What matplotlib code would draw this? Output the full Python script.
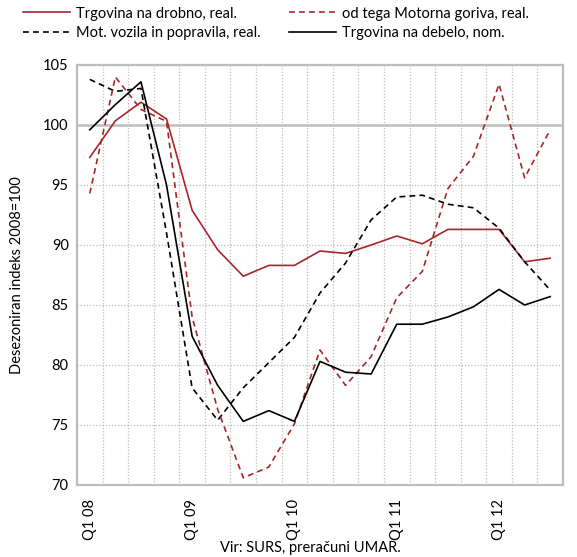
import matplotlib
matplotlib.use("Agg")
import matplotlib.pyplot as plt
import numpy as np

plt.rcParams['font.family'] = ['Lato', 'DejaVu Sans']

# quarters Q1 08 .. Q3 12
quarters = ["Q1 08", "Q2 08", "Q3 08", "Q4 08",
            "Q1 09", "Q2 09", "Q3 09", "Q4 09",
            "Q1 10", "Q2 10", "Q3 10", "Q4 10",
            "Q1 11", "Q2 11", "Q3 11", "Q4 11",
            "Q1 12", "Q2 12", "Q3 12"]

retail = [97.3, 100.35, 101.9, 100.5, 92.9, 89.6, 87.4, 88.3, 88.3,
          89.5, 89.3, 90.0, 90.75, 90.1, 91.3, 91.3, 91.3, 88.6, 88.9]
fuels = [94.3, 104.0, 101.3, 100.3, 84.0, 76.3, 70.6, 71.5, 75.1,
         81.25, 78.3, 80.7, 85.6, 87.8, 94.7, 97.4, 103.4, 95.6, 99.6]
vehicles = [103.8, 102.8, 103.05, 91.0, 78.1, 75.4, 78.1, 80.2, 82.3,
            86.0, 88.5, 92.1, 94.0, 94.15, 93.4, 93.1, 91.4, 88.6, 86.25]
wholesale = [99.6, 101.7, 103.6, 95.0, 82.4, 78.3, 75.3, 76.2, 75.3,
             80.3, 79.4, 79.25, 83.4, 83.4, 84.0, 84.85, 86.3, 85.0, 85.7]

tick_labels = ["Q1 08", "", "", "", "Q1 09", "", "", "", "Q1 10", "", "", "",
               "Q1 11", "", "", "", "Q1 12", "", ""]

red = "#A8262B"
grid_col = "#BDBDBD"

fig = plt.figure(figsize=(5.77, 5.57), dpi=100)
ax = fig.add_axes([77/577, 1-485/557, (563-77)/577, (485-65)/557])

x = np.arange(len(quarters))
ax.plot(x, retail, '-', color=red, lw=1.2, label="Trgovina na drobno, real.")
ax.plot(x, vehicles, color="black", lw=1.2, dashes=(3.5, 2.5), label="Mot. vozila in popravila, real.")
ax.plot(x, fuels, color=red, lw=1.2, dashes=(3.5, 2.5), label="od tega Motorna goriva, real.")
ax.plot(x, wholesale, '-', color="black", lw=1.2, label="Trgovina na debelo, nom.")

ax.set_xlim(-0.5, len(quarters) - 0.5)
ax.set_ylim(70, 105)
ax.set_yticks(np.arange(70, 106, 5))

# grid: dotted at category boundaries and minor y levels
for b in np.arange(-0.5, len(quarters), 1.0)[1:-1]:
    ax.axvline(b, color=grid_col, lw=0.9, ls=(0, (1, 1.5)), zorder=0)
for yv in [75, 80, 85, 90, 95]:
    ax.axhline(yv, color=grid_col, lw=0.9, ls=(0, (1, 1.5)), zorder=0)
ax.axhline(100, color=grid_col, lw=1.8, zorder=0)

for s in ax.spines.values():
    s.set_color(grid_col)
    s.set_linewidth(1.6)

ax.set_xticks(x)
ax.set_xticklabels(tick_labels, rotation=90, fontsize=10)
ax.tick_params(axis='both', length=0, labelsize=10.5, colors="black")
ax.tick_params(axis='x', pad=10)
ax.tick_params(axis='y', pad=6)

ax.set_ylabel("Desezoniran indeks 2008=100", fontsize=10.5)
ax.yaxis.set_label_coords(-0.11, 0.5)

fig.legend(loc="upper center", bbox_to_anchor=(276/577, 1.0), ncol=2,
           frameon=False, fontsize=10.5, handlelength=3.2, handletextpad=0.4,
           columnspacing=2.0, labelspacing=0.35, borderaxespad=0.05)

fig.text(310/577, 1-548/557, "Vir: SURS, preračuni UMAR.", ha="center", va="center", fontsize=10.5)

fig.savefig("out.png", dpi=100)
